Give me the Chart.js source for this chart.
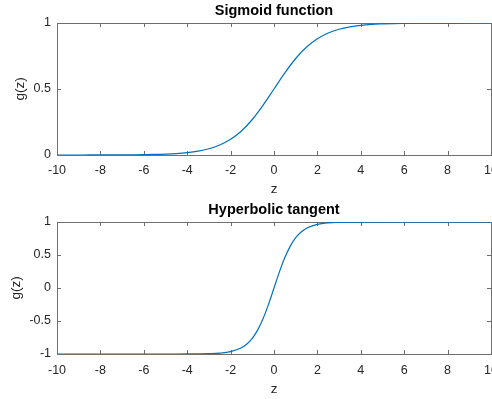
<!DOCTYPE html>
<html>
<head>
<meta charset="utf-8">
<title>Activation functions</title>
<script src="https://cdn.jsdelivr.net/npm/chart.js@4.4.0/dist/chart.umd.min.js"></script>
<style>
  html, body { margin: 0; padding: 0; background: #fff; }
  #wrap { position: relative; width: 492px; height: 399px; overflow: hidden; }
  canvas { position: absolute; left: 0; }
  #sigmoidChart { top: 0; }
  #tanhChart { top: 200px; }
</style>
</head>
<body>
<div id="wrap">
  <canvas id="sigmoidChart" width="492" height="200"></canvas>
  <canvas id="tanhChart" width="492" height="199"></canvas>
</div>
<script>
// --- data: sample points along each curve
var sigmoidZ = [-10, -9.5, -9, -8.5, -8, -7.5, -7, -6.5, -6, -5.5, -5, -4.5, -4, -3.5, -3, -2.5, -2, -1.5, -1, -0.5,
                0, 0.5, 1, 1.5, 2, 2.5, 3, 3.5, 4, 4.5, 5, 5.5, 6, 6.5, 7, 7.5, 8, 8.5, 9, 9.5, 10];
var sigmoidG = [0.0000, 0.0001, 0.0001, 0.0002, 0.0003, 0.0006, 0.0009, 0.0015, 0.0025, 0.0041, 0.0067, 0.011, 0.018,
                0.029, 0.047, 0.076, 0.119, 0.182, 0.269, 0.378, 0.500, 0.622, 0.731, 0.818, 0.881, 0.924, 0.953,
                0.971, 0.982, 0.989, 0.993, 0.996, 0.9975, 0.9985, 0.999, 0.9995, 0.9997, 0.9998, 0.9999, 0.9999, 1.0];

var tanhZ = [-10, -9, -8, -7, -6, -5, -4.5, -4, -3.5, -3, -2.5, -2, -1.5, -1.25, -1, -0.75, -0.5, -0.25,
             0, 0.25, 0.5, 0.75, 1, 1.25, 1.5, 2, 2.5, 3, 3.5, 4, 4.5, 5, 6, 7, 8, 9, 10];
var tanhG = [-1.0, -1.0, -1.0, -1.0, -1.0, -0.9999, -0.9998, -0.9993, -0.998, -0.995, -0.987, -0.964, -0.905, -0.848,
             -0.762, -0.635, -0.462, -0.245, 0, 0.245, 0.462, 0.635, 0.762, 0.848, 0.905, 0.964, 0.987, 0.995,
             0.998, 0.9993, 0.9998, 0.9999, 1.0, 1.0, 1.0, 1.0, 1.0];

var zTicks = [-10, -8, -6, -4, -2, 0, 2, 4, 6, 8, 10];
var sigmoidTicks = [0, 0.5, 1];
var tanhTicks = [-1, -0.5, 0, 0.5, 1];

// --- styles
var lineColor = '#0072BD';
var axisColor = '#6e6e6e';
var textColor = '#262626';
var fontFamily = '"Liberation Sans", Arial, Helvetica, sans-serif';
var tickLen = 4;

function toPoints(xs, ys) {
    return xs.map(function (v, i) { return { x: v, y: ys[i] }; });
}

// axes box with inward tick marks on all four sides
var axisBox = {
    id: 'axisBox',
    beforeDatasetsDraw: function (chart) {
        var ctx = chart.ctx, a = chart.chartArea;
        var x = chart.scales.x, y = chart.scales.y;
        ctx.save();
        ctx.strokeStyle = axisColor;
        ctx.lineWidth = 1;
        ctx.beginPath();
        x.ticks.forEach(function (t) {
            var px = Math.round(x.getPixelForValue(t.value)) + 0.5;
            ctx.moveTo(px, a.bottom); ctx.lineTo(px, a.bottom - tickLen);
            ctx.moveTo(px, a.top); ctx.lineTo(px, a.top + tickLen);
        });
        y.ticks.forEach(function (t) {
            var py = Math.round(y.getPixelForValue(t.value)) + 0.5;
            ctx.moveTo(a.left, py); ctx.lineTo(a.left + tickLen, py);
            ctx.moveTo(a.right, py); ctx.lineTo(a.right - tickLen, py);
        });
        ctx.stroke();
        ctx.strokeRect(a.left + 0.5, a.top + 0.5, a.right - a.left, a.bottom - a.top);
        ctx.restore();
    }
};

function makeChart(canvasId, cfg) {
    var ctx = document.getElementById(canvasId).getContext('2d');
    return new Chart(ctx, {
        type: 'line',
        data: {
            datasets: [{
                data: toPoints(cfg.z, cfg.g),
                borderColor: lineColor,
                borderWidth: 1.2,
                pointRadius: 0,
                fill: false,
                cubicInterpolationMode: 'monotone'
            }]
        },
        options: {
            responsive: false,
            animation: false,
            devicePixelRatio: 1,
            layout: { padding: { left: cfg.padLeft, right: 1, top: 0, bottom: 0 } },
            plugins: {
                legend: { display: false },
                tooltip: { enabled: false },
                title: {
                    display: true,
                    text: cfg.title,
                    fullSize: false,
                    color: '#000',
                    font: { family: fontFamily, size: 14.5, weight: 'bold' },
                    padding: { top: cfg.titleTop, bottom: cfg.areaTop - 17.4 - cfg.titleTop }
                }
            },
            scales: {
                x: {
                    type: 'linear',
                    min: -10,
                    max: 10,
                    afterBuildTicks: function (s) { s.ticks = zTicks.map(function (v) { return { value: v }; }); },
                    afterFit: function (s) { s.height = cfg.xHeight; s.paddingLeft = 0; s.paddingRight = 0; },
                    grid: { display: false, drawTicks: false },
                    border: { display: false },
                    ticks: {
                        color: textColor,
                        font: { family: fontFamily, size: 12.5 },
                        padding: cfg.xTickPad,
                        maxRotation: 0,
                        autoSkip: false
                    },
                    title: {
                        display: true,
                        text: 'z',
                        color: textColor,
                        font: { family: fontFamily, size: 13.5 },
                        padding: { top: 0, bottom: cfg.xTitlePad }
                    }
                },
                y: {
                    type: 'linear',
                    min: cfg.yTicks[0],
                    max: cfg.yTicks[cfg.yTicks.length - 1],
                    afterBuildTicks: function (s) { s.ticks = cfg.yTicks.map(function (v) { return { value: v }; }); },
                    afterFit: function (s) { s.width = 57 - cfg.padLeft; s.paddingTop = 0; s.paddingBottom = 0; },
                    grid: { display: false, drawTicks: false },
                    border: { display: false },
                    ticks: {
                        color: textColor,
                        font: { family: fontFamily, size: 12.5 },
                        padding: 6,
                        callback: function (v) { return String(v); }
                    },
                    title: {
                        display: true,
                        text: 'g(z)',
                        color: textColor,
                        font: { family: fontFamily, size: 13.5 },
                        padding: { top: 0, bottom: 0 }
                    }
                }
            }
        },
        plugins: [axisBox]
    });
}

makeChart('sigmoidChart', {
    z: sigmoidZ, g: sigmoidG, yTicks: sigmoidTicks,
    title: 'Sigmoid function',
    padLeft: 12, areaTop: 23, titleTop: 2.2,
    xHeight: 45, xTickPad: 8, xTitlePad: 3
});

makeChart('tanhChart', {
    z: tanhZ, g: tanhG, yTicks: tanhTicks,
    title: 'Hyperbolic tangent',
    padLeft: 8, areaTop: 22, titleTop: 1.2,
    xHeight: 45, xTickPad: 9, xTitlePad: 1.3
});
</script>
</body>
</html>
